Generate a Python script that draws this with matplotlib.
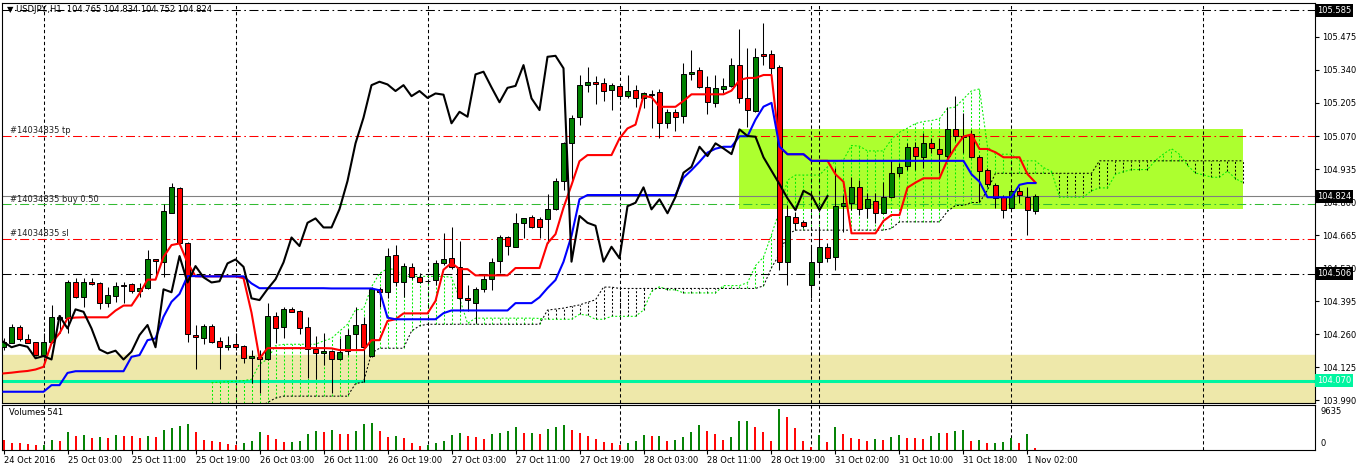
import numpy as np
import pandas as pd
import matplotlib
matplotlib.use('Agg')
import matplotlib.pyplot as plt
from matplotlib.patches import Rectangle
from matplotlib.transforms import blended_transform_factory

plt.rcParams['lines.scale_dashes'] = False
plt.rcParams['font.family'] = ['DejaVu Sans']

symbol = 'USDJPY.,H1'

# USDJPY H1 bars, 24 Oct 2016 19:00 .. 1 Nov 03:00
open_ = [104.208, 104.224, 104.287, 104.238, 104.226, 104.174, 104.226, 104.322, 104.324, 104.471,
         104.412, 104.471, 104.467, 104.385, 104.417, 104.459, 104.463, 104.436, 104.447, 104.565,
         104.556, 104.756, 104.856, 104.631, 104.256, 104.242, 104.294, 104.230, 104.208, 104.219,
         104.211, 104.161, 104.165, 104.156, 104.334, 104.287, 104.361, 104.354, 104.287, 104.197,
         104.181, 104.192, 104.156, 104.192, 104.259, 104.300, 104.170, 104.443, 104.431, 104.583,
         104.474, 104.533, 104.493, 104.478, 104.481, 104.549, 104.570, 104.535, 104.407, 104.385,
         104.445, 104.484, 104.557, 104.655, 104.617, 104.713, 104.740, 104.730, 104.730, 104.771,
         104.886, 105.040, 105.149, 105.278, 105.292, 105.285, 105.257, 105.274, 105.233, 105.258,
         105.226, 105.242, 105.251, 105.122, 105.169, 105.152, 105.322, 105.340, 105.271, 105.203,
         105.262, 105.275, 105.360, 105.224, 105.172, 105.404, 105.404, 105.353, 104.556, 104.740,
         104.719, 104.460, 104.556, 104.617, 104.574, 104.783, 104.797, 104.860, 104.774, 104.805,
         104.756, 104.821, 104.917, 104.947, 105.026, 104.985, 105.040, 105.015, 104.988, 105.097,
         105.071, 105.078, 104.983, 104.931, 104.869, 104.821, 104.777, 104.846, 104.821, 104.765]
high_ = [104.244, 104.300, 104.297, 104.260, 104.228, 104.263, 104.379, 104.338, 104.481, 104.488,
         104.490, 104.488, 104.473, 104.453, 104.474, 104.474, 104.467, 104.467, 104.604, 104.565,
         104.790, 104.876, 104.861, 104.637, 104.297, 104.301, 104.301, 104.249, 104.252, 104.263,
         104.215, 104.195, 104.195, 104.386, 104.350, 104.372, 104.369, 104.358, 104.328, 104.252,
         104.263, 104.195, 104.242, 104.279, 104.372, 104.331, 104.453, 104.453, 104.610, 104.624,
         104.552, 104.549, 104.508, 104.486, 104.563, 104.674, 104.696, 104.640, 104.460, 104.453,
         104.501, 104.570, 104.665, 104.661, 104.756, 104.736, 104.747, 104.740, 104.831, 104.897,
         105.046, 105.156, 105.319, 105.353, 105.315, 105.308, 105.285, 105.278, 105.319, 105.278,
         105.250, 105.258, 105.262, 105.180, 105.180, 105.367, 105.421, 105.353, 105.316, 105.319,
         105.306, 105.390, 105.507, 105.428, 105.428, 105.531, 105.421, 105.360, 104.788, 104.760,
         104.726, 104.617, 104.692, 104.631, 104.938, 104.828, 104.903, 104.890, 104.838, 104.838,
         104.883, 104.972, 104.958, 105.040, 105.046, 105.081, 105.060, 105.060, 105.190, 105.233,
         105.163, 105.094, 104.992, 104.938, 104.876, 104.828, 104.856, 104.862, 104.860, 104.834]
low_ = [104.195, 104.222, 104.233, 104.222, 104.170, 104.167, 104.222, 104.263, 104.263, 104.406,
        104.369, 104.460, 104.361, 104.372, 104.392, 104.385, 104.429, 104.412, 104.443, 104.494,
        104.492, 104.754, 104.628, 104.228, 104.116, 104.219, 104.222, 104.116, 104.195, 104.195,
        104.140, 104.058, 104.019, 104.154, 104.222, 104.245, 104.350, 104.260, 104.081, 104.075,
        104.133, 104.017, 104.154, 104.174, 104.195, 104.065, 104.167, 104.372, 104.406, 104.456,
        104.412, 104.484, 104.470, 104.467, 104.460, 104.542, 104.525, 104.355, 104.355, 104.304,
        104.432, 104.440, 104.508, 104.583, 104.615, 104.654, 104.692, 104.654, 104.631, 104.767,
        104.849, 104.880, 105.115, 105.248, 105.199, 105.213, 105.176, 105.217, 105.225, 105.190,
        105.183, 105.104, 105.060, 105.101, 105.090, 105.122, 105.299, 105.266, 105.159, 105.190,
        105.244, 105.271, 105.203, 105.108, 105.169, 105.360, 105.319, 104.522, 104.460, 104.685,
        104.693, 104.406, 104.508, 104.556, 104.522, 104.678, 104.767, 104.747, 104.733, 104.713,
        104.755, 104.816, 104.903, 104.931, 104.931, 104.938, 105.000, 104.920, 104.972, 105.051,
        104.999, 104.980, 104.801, 104.862, 104.774, 104.733, 104.774, 104.797, 104.665, 104.752]
close_ = [104.228, 104.290, 104.238, 104.224, 104.174, 104.226, 104.329, 104.331, 104.471, 104.412,
          104.471, 104.464, 104.385, 104.418, 104.456, 104.456, 104.436, 104.447, 104.565, 104.559,
          104.762, 104.860, 104.631, 104.259, 104.246, 104.294, 104.228, 104.206, 104.216, 104.208,
          104.161, 104.170, 104.156, 104.334, 104.283, 104.361, 104.351, 104.283, 104.197, 104.181,
          104.192, 104.156, 104.188, 104.256, 104.297, 104.206, 104.443, 104.431, 104.579, 104.471,
          104.538, 104.492, 104.471, 104.476, 104.549, 104.565, 104.535, 104.406, 104.399, 104.444,
          104.484, 104.553, 104.655, 104.620, 104.715, 104.733, 104.696, 104.696, 104.771, 104.886,
          105.040, 105.145, 105.278, 105.292, 105.281, 105.254, 105.278, 105.233, 105.254, 105.226,
          105.244, 105.239, 105.122, 105.169, 105.149, 105.322, 105.333, 105.269, 105.208, 105.267,
          105.275, 105.360, 105.224, 105.176, 105.394, 105.398, 105.347, 104.556, 104.743, 104.715,
          104.703, 104.556, 104.617, 104.570, 104.783, 104.797, 104.860, 104.770, 104.811, 104.754,
          104.821, 104.920, 104.944, 105.026, 104.988, 105.040, 105.019, 104.996, 105.097, 105.070,
          105.067, 104.983, 104.928, 104.873, 104.815, 104.767, 104.846, 104.828, 104.767, 104.824]
volume = [2271, 1644, 1566, 1409, 1175, 1253, 2271, 2036, 4150, 3210,
          3445, 2741, 2975, 2897, 3445, 3367, 3210, 2741, 3210, 2975,
          4620, 5324, 5794, 6264, 4150, 2271, 2036, 1958, 1331, 1096,
          1566, 2036, 4228, 3445, 2506, 1879, 1958, 2036, 3680, 4541,
          4150, 4620, 3758, 3680, 4385, 6264, 6499, 4385, 3132, 3210,
          2741, 1566, 861, 1175, 1644, 2036, 3445, 3915, 3210, 3132,
          2506, 3680, 3915, 4385, 5559, 3915, 4072, 3758, 5090, 5559,
          6029, 4855, 3915, 3210, 2506, 1801, 1723, 1175, 1644, 2036,
          3445, 3210, 3367, 2036, 2271, 3054, 4228, 5873, 4463, 3758,
          2349, 3054, 6812, 6890, 5403, 4228, 2114, 9635, 7752, 5168,
          2114, 783, 3524, 1879, 5403, 3758, 2819, 2584, 2114, 2584,
          2349, 3054, 3524, 2819, 2741, 2584, 3289, 3993, 3915, 4463,
          4698, 2114, 2349, 1644, 1723, 1879, 2819, 1644, 3758, 541]

# Ichimoku values from before the first visible bar
tenkan_warmup = [104.099, 104.102, 104.106, 104.109, 104.115, 104.126, 104.223, 104.263]
kijun_warmup = [104.024] * 6 + [104.051] * 2 + [104.101] + [104.108] * 7 + \
               [104.167, 104.174, 104.235, 104.242, 104.331, 104.392, 104.424, 104.497, 104.497]
span_b_warmup = [103.962] * 7 + [103.980, 103.998] + [104.006] * 9 + \
                [104.057, 104.064, 104.182] + [104.202] * 4 + [104.272, 104.294] + [104.300] * 15 + \
                [104.358, 104.362, 104.366, 104.373, 104.379, 104.390, 104.400, 104.452, 104.452]

time_labels = ['24 Oct 2016', '25 Oct 03:00', '25 Oct 11:00', '25 Oct 19:00', '26 Oct 03:00',
               '26 Oct 11:00', '26 Oct 19:00', '27 Oct 03:00', '27 Oct 11:00', '27 Oct 19:00',
               '28 Oct 03:00', '28 Oct 11:00', '28 Oct 19:00', '31 Oct 02:00', '31 Oct 10:00',
               '31 Oct 18:00', '1 Nov 02:00']
day_separators = [5, 29, 53, 77, 101, 102, 126, 150]
price_ticks = [105.475, 105.340, 105.205, 105.070, 104.935, 104.800, 104.665,
               104.530, 104.395, 104.260, 104.125, 103.990]

order_id = '#14034835'
tp_price = 105.070
sl_price = 104.650
buy_price = 104.790
bid_price = close_[-1]
level_hi = 105.585
level_mid = 104.506
level_support = 104.070
zone_support_top = 104.174
zone_box = (92, 155, 104.770, 105.098)

o = np.array(open_); h = np.array(high_); l = np.array(low_); c = np.array(close_)
vol = np.array(volume)
n = len(c)
x = np.arange(n)

H = pd.Series(h); L = pd.Series(l)
tenkan = ((H.rolling(9).max() + L.rolling(9).min()) / 2).to_numpy()
tenkan[:8] = tenkan_warmup
kijun = ((H.rolling(26).max() + L.rolling(26).min()) / 2).to_numpy()
kijun[:25] = kijun_warmup
span_a = (tenkan + kijun) / 2
span_b = ((H.rolling(52).max() + L.rolling(52).min()) / 2).to_numpy()
span_b[:51] = span_b_warmup
xs = x + 26

W, HP = 1358, 471
fig = plt.figure(figsize=(W / 100, HP / 100), dpi=100)
ax = fig.add_axes([2 / W, 1 - 403 / HP, 1313 / W, 400 / HP])
axv = fig.add_axes([2 / W, 1 - 450 / HP, 1313 / W, 45 / HP])
xlim = (-0.19, 163.94)
ax.set_xlim(xlim)
ax.set_ylim(103.978, 105.614)
axv.set_xlim(xlim)
axv.set_ylim(0, 10658)
for a in (ax, axv):
    for s in a.spines.values():
        s.set_linewidth(0.8)
        s.set_color('black')

dashdot = (0, (6.5, 2.5, 1.2, 2.5))
dotted = (0, (1.4, 1.4))

# zones
ax.axhspan(103.5, zone_support_top, color='#eee8aa', zorder=0)
ax.add_patch(Rectangle((zone_box[0] - 0.06, zone_box[2]), zone_box[1] - zone_box[0],
                       zone_box[3] - zone_box[2], color='#adff2f', zorder=0.5, lw=0))

# cloud hatch and spans
bull = span_a >= span_b
ax.vlines(xs, np.minimum(span_a, span_b), np.maximum(span_a, span_b),
          colors=np.where(bull, '#00ee00', 'black'), linestyles=[dotted], lw=0.75, zorder=1)
ax.plot(xs, span_a, color='#00ee00', ls=dotted, lw=0.75, zorder=1.5)
ax.plot(xs, span_b, color='black', ls=dotted, lw=0.75, zorder=1.5)

# separators
for sep in day_separators:
    for a in (ax, axv):
        a.axvline(sep, color='black', ls=(0, (2.4, 1.9)), lw=0.75, zorder=1.2)

# horizontal levels
ax.axhline(level_hi, color='black', ls=dashdot, lw=0.75, zorder=1.3)
ax.axhline(level_mid, color='black', ls=dashdot, lw=0.75, zorder=1.3)
ax.axhline(tp_price, color='#ff0000', ls=dashdot, lw=0.75, zorder=1.3)
ax.axhline(sl_price, color='#ff0000', ls=dashdot, lw=0.75, zorder=1.3)
ax.axhline(buy_price, color='#33bb33', ls=dashdot, lw=0.75, zorder=1.3)
ax.axhline(bid_price, color='#808080', lw=0.8, zorder=1.3)
ax.axhline(level_support, color='#00f5a0', lw=2.2, zorder=1.3)

# candles
up = c >= o
body_lo = np.minimum(o, c)
body_h = np.maximum(np.abs(c - o), 0.0012)
ax.vlines(x, l, h, color='black', lw=0.75, zorder=4)
ax.bar(x, body_h, 0.58, bottom=body_lo, color=np.where(up, '#008000', '#ff0000'),
       edgecolor='black', linewidth=0.7, zorder=5)

# ichimoku lines
ax.plot(x, tenkan, color='#ff0000', lw=1.5, zorder=6)
ax.plot(x, kijun, color='#0000ff', lw=1.5, zorder=6)
ax.plot(x[:-26], c[26:], color='black', lw=1.5, zorder=6)

# texts
ax.set_xticks([])
ax.yaxis.tick_right()
ax.set_yticks(price_ticks)
ax.set_yticklabels([f'{t:.3f}' for t in price_ticks], fontsize=6)
ax.tick_params(axis='y', length=3, pad=2, width=0.8)

trans = blended_transform_factory(ax.transAxes, ax.transData)
for val, bg in [(level_hi, 'black'), (bid_price, 'black'), (level_mid, 'black'), (level_support, '#00f5a0')]:
    ax.text(1.0016, val, f'{val:.3f}', transform=trans, ha='left', va='center', color='white',
            fontsize=6, zorder=10, clip_on=False,
            bbox=dict(facecolor=bg, edgecolor='none', boxstyle='square,pad=0.25'))

ax.text(0.004, 0.9825, '\u25bc ' + symbol + '  ' + ' '.join(f'{v:.3f}' for v in (o[-1], h[-1], l[-1], c[-1])),
        transform=ax.transAxes, fontsize=6, va='center', ha='left', zorder=10)
for txt, val in [(order_id + ' tp', tp_price), (order_id + ' buy 0.50', buy_price), (order_id + ' sl', sl_price)]:
    ax.text(0.006, val + 0.021, txt, transform=trans, fontsize=6, va='center', ha='left',
            color='#222222', zorder=10)

# volumes
vcol = ['#ff0000'] + ['#008000' if vol[i] > vol[i - 1] else '#ff0000' for i in range(1, n)]
axv.vlines(x, 0, vol, colors=vcol, lw=1.4)
axv.set_yticks([])
axv.text(0.005, 0.84, f'Volumes {vol[-1]}', transform=axv.transAxes, fontsize=6, va='center')
axv.text(1.004, 0.86, f'{vol.max()}', transform=axv.transAxes, fontsize=6, va='center', ha='left')
axv.text(1.004, 0.15, '0', transform=axv.transAxes, fontsize=6, va='center', ha='left')
axv.set_xticks(np.arange(0, 8 * len(time_labels), 8))
axv.set_xticklabels(time_labels, fontsize=6)
for t in axv.get_xticklabels():
    t.set_ha('left')
axv.tick_params(axis='x', length=3, pad=1.5, width=0.8)

fig.savefig('out.png', dpi=100)
